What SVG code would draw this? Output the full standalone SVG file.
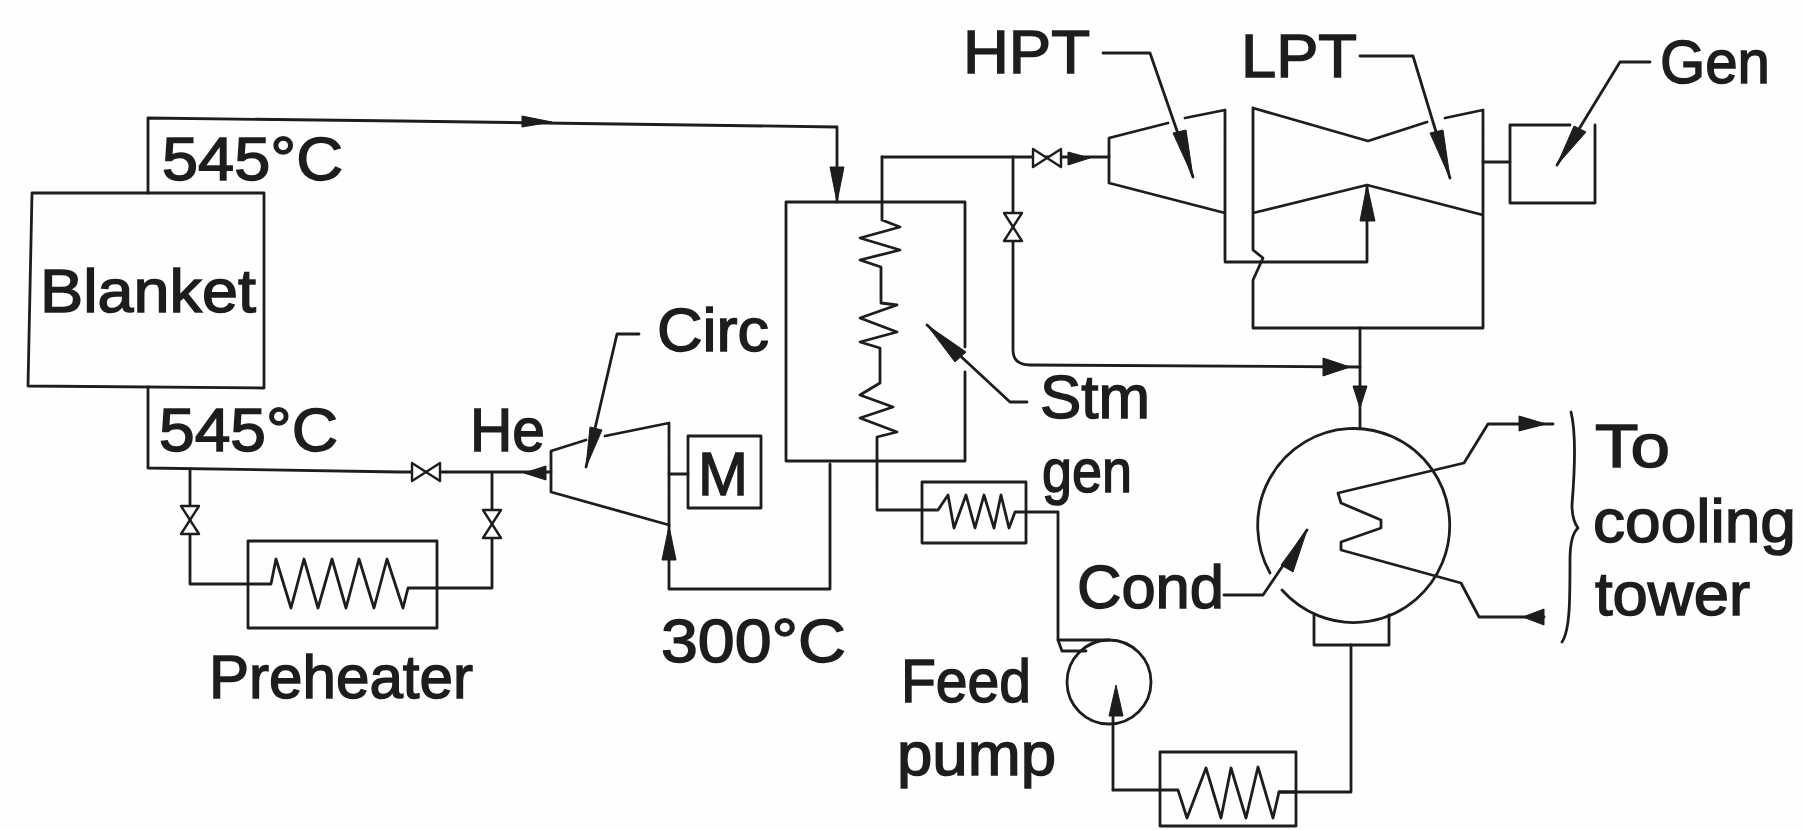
<svg xmlns="http://www.w3.org/2000/svg" width="1804" height="830" viewBox="0 0 1804 830">
<style>
.s{fill:none;stroke:#1d1d1d;stroke-width:2.8;stroke-linejoin:round;stroke-linecap:round}
.f{fill:#fff;stroke:#1d1d1d;stroke-width:2.4;stroke-linejoin:round}
.h{fill:#1d1d1d;stroke:#1d1d1d;stroke-width:1;stroke-linejoin:round}
text{font-family:"Liberation Sans",Arial,sans-serif;font-size:62px;fill:#1d1d1d;stroke:#1d1d1d;stroke-width:1.5px}
</style>
<defs>
<path id="vh" d="M-14,-9 L14,9 L14,-9 L-14,9 Z"/>
<path id="vv" d="M-9,-14 L9,-14 L-9,14 L9,14 Z"/>
</defs>
<rect width="1804" height="830" fill="#fefefd"/>
<g id="connectors">
<path class="s" d="M148,193 V118 L400,121 L837,127 V202"/>
<path class="h" d="M522,116 L552,122 L522,127 Z"/>
<path class="h" d="M830,167 L844,167 L837,202 Z"/>
<path class="s" d="M148,387 V468 L400,472 H551"/>
<path class="h" d="M524,473 L546,466 V480 Z"/>
<path class="s" d="M190,469 V584 H248"/>
<path class="s" d="M492,473 V588 H437"/>
<path class="s" d="M830,464 V589 H669 V525"/>
<path class="h" d="M669,526 L676,560 H662 Z"/>
<path class="s" d="M669,474 H688"/>
<path class="s" d="M882,157 H1109"/>
<path class="h" d="M1068,152 L1090,158 L1068,165 Z"/>
<path class="s" d="M882,157 V220 L900,227 L860,238 L900,250 L860,260 L881,267 V303 L897,305 L860,318 L897,332 L860,342 L880,348 V383 L860,395 L893,407 L860,418 L897,432 L877,437 V510 H938 L948,495 L954,528 L966,495 L975,528 L984,495 L994,528 L1001,495 L1009,528 L1015,512 H1058 V640 H1109"/>
<path class="s" d="M1013,157 V350 Q1013,365 1030,365 L1360,367"/>
<path class="h" d="M1323,358 L1350,367 L1323,376 Z"/>
<path class="s" d="M1225,262 H1367 V186"/>
<path class="h" d="M1367,185 L1375,221 H1360 Z"/>
<path class="s" d="M1360,328 V428"/>
<path class="h" d="M1353,386 L1367,386 L1360,408 Z"/>
<path class="s" d="M1483,162 H1510"/>
<path class="s" d="M1113,790 V713"/>
<path class="h" d="M1116,685 L1123,716 H1109 Z"/>
<path class="s" d="M1113,790 H1160"/>
<path class="s" d="M1279,792 H1351 V645"/>
<path class="s" d="M1553,424 H1488 L1464,463 L1338,493 L1341,503 L1381,520 V528 L1341,542 V550 L1461,583 L1479,617 H1544"/>
<path class="h" d="M1519,416 L1546,424 L1519,431 Z"/>
<path class="h" d="M1523,617 L1544,609 V625 Z"/>
<path class="s" d="M1571,412 C1578,440 1573,490 1572,505 Q1572,520 1578,528 Q1570,535 1570,560 C1570,600 1570,630 1562,642"/>
</g>
<g id="blanket"><path class="s" d="M32,193 H264 V388 L28,386 Z"/><text x="40" y="312" textLength="216" lengthAdjust="spacingAndGlyphs">Blanket</text></g>
<g id="label-545-top"><text x="162" y="180" textLength="181" lengthAdjust="spacingAndGlyphs">545°C</text></g>
<g id="label-545-bottom"><text x="159" y="451" textLength="179" lengthAdjust="spacingAndGlyphs">545°C</text></g>
<g id="label-he"><text x="470" y="451" textLength="75" lengthAdjust="spacingAndGlyphs">He</text></g>
<g id="valve-he"><use href="#vh" class="f" x="426" y="472"/></g>
<g id="valve-pre-in"><use href="#vv" class="f" x="190" y="520"/></g>
<g id="valve-pre-out"><use href="#vv" class="f" x="492" y="524"/></g>
<g id="preheater"><rect class="s" x="248" y="541" width="189" height="87"/><path class="s" d="M248,584 H271 L276,559 L291,608 L304,559 L318,608 L332,559 L346,608 L359,559 L374,608 L387,559 L403,608 L408,588 H437"/><text x="209" y="698" textLength="264" lengthAdjust="spacingAndGlyphs">Preheater</text></g>
<g id="circulator"><path class="s" d="M586,440 L551,451 V492 L669,525 V423 L605,436"/><path class="s" d="M639,334 H617 L586,467"/><path class="h" d="M586,467 L590,427 L602,430 Z"/><text x="657" y="351" textLength="112" lengthAdjust="spacingAndGlyphs">Circ</text></g>
<g id="motor"><rect class="s" x="688" y="436" width="73" height="72"/><text x="698" y="495" textLength="50" lengthAdjust="spacingAndGlyphs">M</text></g>
<g id="label-300"><text x="661" y="662" textLength="185" lengthAdjust="spacingAndGlyphs">300°C</text></g>
<g id="steam-generator"><path class="s" d="M786,202 H965 V347 M965,372 V461 H786 V202"/><path class="s" d="M1027,402 H1010 L927,325"/><path class="h" d="M927,325 L966,352 L955,362 Z"/><text x="1040" y="418" textLength="110" lengthAdjust="spacingAndGlyphs">Stm</text><text x="1042" y="492" textLength="90" lengthAdjust="spacingAndGlyphs">gen</text></g>
<g id="valve-steam"><use href="#vh" class="f" x="1047" y="158"/></g>
<g id="valve-bypass"><use href="#vv" class="f" x="1013" y="227"/></g>
<g id="hpt"><path class="s" d="M1168,123 L1109,138 V183 L1225,213 M1185,118 L1225,110 V260"/><path class="s" d="M1103,53 H1150 L1193,177"/><path class="h" d="M1193,177 L1173,133 L1186,130 Z"/><text x="963" y="73" textLength="127" lengthAdjust="spacingAndGlyphs">HPT</text></g>
<g id="lpt"><path class="s" d="M1253,108 L1368,141 L1427,122 M1445,118 L1483,110 V328 H1253 V280 L1263,258 L1253,250 V108 M1253,213 L1367,185 L1483,215"/><path class="s" d="M1360,56 H1413 L1450,178"/><path class="h" d="M1450,178 L1430,133 L1443,130 Z"/><text x="1241" y="77" textLength="116" lengthAdjust="spacingAndGlyphs">LPT</text></g>
<g id="generator"><path class="s" d="M1570,125 H1510 V203 H1595 V125"/><path class="s" d="M1650,62 H1620 L1557,165"/><path class="h" d="M1557,165 L1574,126 L1586,132 Z"/><text x="1660" y="83" textLength="110" lengthAdjust="spacingAndGlyphs">Gen</text></g>
<g id="feedwater-heater-1"><rect class="s" x="922" y="482" width="104" height="61"/></g>
<g id="feed-pump"><circle class="s" cx="1109" cy="682" r="42"/><path class="s" d="M1058,640 L1062,651 H1086"/><text x="901" y="702" textLength="130" lengthAdjust="spacingAndGlyphs">Feed</text><text x="897" y="775" textLength="159" lengthAdjust="spacingAndGlyphs">pump</text></g>
<g id="feedwater-heater-2"><rect class="s" x="1160" y="752" width="136" height="74"/><path class="s" d="M1160,790 H1178 L1187,818 L1206,768 L1221,818 L1231,768 L1246,818 L1258,767 L1273,818 L1279,792 H1296"/></g>
<g id="condenser"><path class="s" d="M1282,590 A96,97 0 1 0 1270,573"/><path class="s" d="M1314,615 V645 H1389 V615"/><path class="s" d="M1224,595 H1263 L1307,530"/><path class="h" d="M1307,530 L1293,572 L1281,565 Z"/><text x="1077" y="608" textLength="147" lengthAdjust="spacingAndGlyphs">Cond</text></g>
<g id="label-cooling"><text x="1595" y="467" textLength="75" lengthAdjust="spacingAndGlyphs">To</text><text x="1593" y="542" textLength="203" lengthAdjust="spacingAndGlyphs">cooling</text><text x="1595" y="615" textLength="155" lengthAdjust="spacingAndGlyphs">tower</text></g>
</svg>
